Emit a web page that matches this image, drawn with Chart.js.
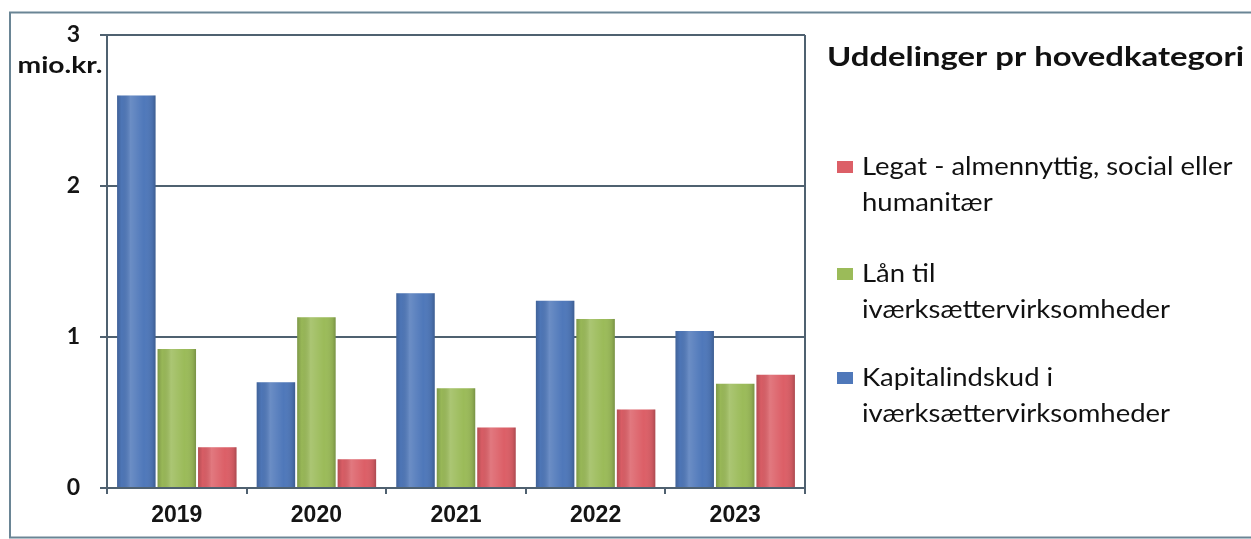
<!DOCTYPE html>
<html><head><meta charset="utf-8">
<script src="https://cdn.jsdelivr.net/npm/chart.js@4.4.0/dist/chart.umd.min.js"></script>
<style>html,body{margin:0;padding:0;background:#fff;}#wrap{width:1251px;height:539px;position:relative;}canvas{display:block}</style>
</head><body><div id="wrap"><canvas id="c" width="1251" height="539"></canvas></div>
<script>
const categories = ['2019', '2020', '2021', '2022', '2023'];
const kapitalindskud = [2.60, 0.70, 1.29, 1.24, 1.04];
const laan = [0.92, 1.13, 0.66, 1.12, 0.69];
const legat = [0.27, 0.19, 0.40, 0.52, 0.75];
const seriesNames = ['Kapitalindskud i iværksættervirksomheder', 'Lån til iværksættervirksomheder', 'Legat - almennyttig, social eller humanitær'];
const legendLines = [['Kapitalindskud i', 'iværksættervirksomheder'], ['Lån til', 'iværksættervirksomheder'], ['Legat - almennyttig, social eller', 'humanitær']];
const yTicks = [0, 1, 2, 3];
const yUnit = 'mio.kr.';
const chartTitle = 'Uddelinger pr hovedkategori';

const colors = ['#4f78ba', '#9bbb59', '#dc5f67'];
const lineColor = '#4f6170';

function stretchText(ctx, t, x, y, sx) {
  ctx.save();
  ctx.translate(x, y);
  ctx.scale(sx, 1);
  ctx.fillText(t, 0, 0);
  ctx.restore();
}

const shadePlugin = {
  id: 'shade',
  afterDatasetsDraw(chart) {
    const ctx = chart.ctx;
    chart.data.datasets.forEach((ds, di) => {
      chart.getDatasetMeta(di).data.forEach(el => {
        const p = el.getProps(['x', 'y', 'base', 'width'], true);
        const l = p.x - p.width / 2, r = p.x + p.width / 2;
        const g = ctx.createLinearGradient(l, 0, r, 0);
        g.addColorStop(0, 'rgba(0,0,0,0.18)');
        g.addColorStop(0.12, 'rgba(0,0,0,0.02)');
        g.addColorStop(0.35, 'rgba(255,255,255,0.16)');
        g.addColorStop(0.7, 'rgba(255,255,255,0.0)');
        g.addColorStop(0.92, 'rgba(0,0,0,0.08)');
        g.addColorStop(1, 'rgba(0,0,0,0.22)');
        ctx.save();
        ctx.fillStyle = g;
        ctx.fillRect(l, p.y, p.width, p.base - p.y);
        ctx.restore();
      });
    });
  }
};

const decorPlugin = {
  id: 'decor',
  beforeDraw(chart) {
    const ctx = chart.ctx;
    ctx.save();
    ctx.fillStyle = '#ffffff';
    ctx.fillRect(0, 0, chart.width, chart.height);
    ctx.restore();
  },
  afterDraw(chart) {
    const ctx = chart.ctx;
    const a = chart.chartArea;
    ctx.save();
    // outer frame
    ctx.strokeStyle = '#6a8595';
    ctx.lineWidth = 2;
    ctx.strokeRect(10, 12.5, chart.width + 20, chart.height - 14);
    // right border of plot area
    ctx.strokeStyle = lineColor;
    ctx.beginPath();
    ctx.moveTo(a.right, a.top);
    ctx.lineTo(a.right, a.bottom + 6);
    ctx.stroke();
    ctx.fillStyle = '#111';
    ctx.textBaseline = 'middle';
    // unit label
    ctx.font = 'bold 23px Lato';
    ctx.textAlign = 'center';
    stretchText(ctx, yUnit, 60, 66, 85 / ctx.measureText(yUnit).width);
    // title
    ctx.textAlign = 'left';
    ctx.font = 'bold 27px Lato';
    stretchText(ctx, chartTitle, 827, 57, 417 / ctx.measureText(chartTitle).width);
    // legend (reverse order)
    ctx.font = '25px Lato';
    const sx = 308 / ctx.measureText(legendLines[0][1]).width;
    const starts = [167, 274, 378];
    const order = [2, 1, 0];
    order.forEach((di, k) => {
      const y0 = starts[k];
      ctx.fillStyle = colors[di];
      ctx.fillRect(837, y0 - 6, 16, 12);
      ctx.fillStyle = '#111';
      legendLines[di].forEach((t, li) => stretchText(ctx, t, 862, y0 + li * 36, sx));
    });
    ctx.restore();
  }
};

new Chart(document.getElementById('c'), {
  type: 'bar',
  data: {
    labels: categories,
    datasets: [
      { label: seriesNames[0], data: kapitalindskud, backgroundColor: colors[0] },
      { label: seriesNames[1], data: laan, backgroundColor: colors[1] },
      { label: seriesNames[2], data: legat, backgroundColor: colors[2] }
    ]
  },
  options: {
    responsive: false,
    animation: false,
    events: [],
    categoryPercentage: 0.87,
    barPercentage: 0.95,
    layout: { padding: { top: 35, right: 446, bottom: 0, left: 0 } },
    plugins: { legend: { display: false }, tooltip: { enabled: false }, title: { display: false } },
    scales: {
      x: {
        afterFit: s => { s.height = 51; },
        grid: { display: true, drawOnChartArea: false, drawTicks: true, tickLength: 6, color: lineColor, lineWidth: 2, offset: true },
        border: { display: true, color: lineColor, width: 2 },
        ticks: { color: '#151515', padding: 8, font: { family: 'Liberation Sans', size: 23, weight: 'bold' } }
      },
      y: {
        min: 0, max: 3,
        afterFit: s => { s.width = 107; },
        afterBuildTicks: s => { s.ticks = yTicks.map(v => ({ value: v })); },
        grid: { color: lineColor, lineWidth: 2, tickLength: 7, drawTicks: true },
        border: { display: true, color: lineColor, width: 2 },
        ticks: { color: '#151515', padding: 20, font: { family: 'Lato', size: 23, weight: 'bold' } }
      }
    }
  },
  plugins: [shadePlugin, decorPlugin]
});
</script></body></html>
